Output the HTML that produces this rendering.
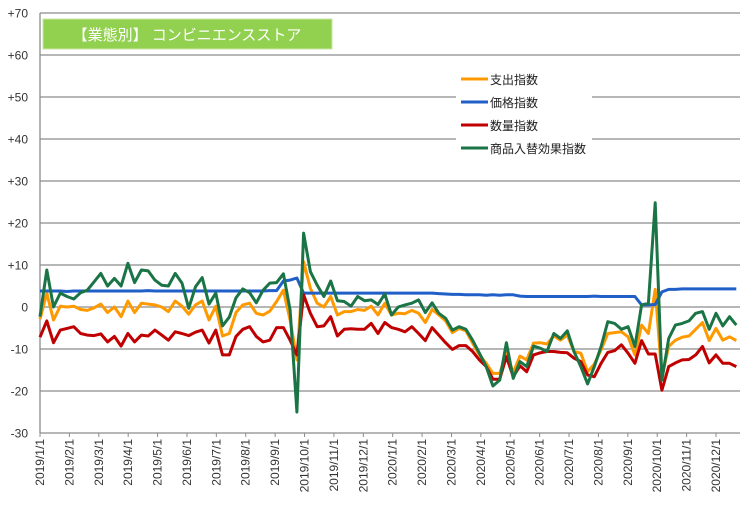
<!DOCTYPE html>
<html><head><meta charset="utf-8">
<style>
body{margin:0;background:#fff;}
svg{display:block;font-family:"Liberation Sans","Noto Sans CJK JP",sans-serif;}
</style></head>
<body>
<svg id="chart" width="745" height="510" viewBox="0 0 745 510"></svg>
<script>
const yTicks=[70,60,50,40,30,20,10,0,-10,-20,-30];
const monthLabels=["2019/1/1","2019/2/1","2019/3/1","2019/4/1","2019/5/1","2019/6/1","2019/7/1","2019/8/1","2019/9/1","2019/10/1","2019/11/1","2019/12/1","2020/1/1","2020/2/1","2020/3/1","2020/4/1","2020/5/1","2020/6/1","2020/7/1","2020/8/1","2020/9/1","2020/10/1","2020/11/1","2020/12/1"];
const seriesNames=["支出指数","価格指数","数量指数","商品入替効果指数"];
const spending=[-2.9,3.3,-3.1,0.2,0,0.2,-0.6,-0.8,-0.2,0.7,-1.3,0,-2.3,1.4,-1.3,0.9,0.7,0.5,0,-1.1,1.4,0.2,-1.7,0.5,1.4,-3.1,0.2,-6.9,-6.3,-1.3,0.5,0.9,-1.5,-1.9,-1,1.3,4,-3.1,-12.6,10.8,4.4,0.9,0,2.5,-1.9,-1.1,-1.1,-0.6,-0.8,0.2,-1.9,0.9,-1.9,-1.5,-1.6,-0.8,-1.5,-3.7,-0.6,-1.9,-3.3,-6.1,-5.1,-5.7,-8.6,-11.4,-13.4,-15.8,-15.8,-11,-15.6,-11.7,-12.6,-8.6,-8.5,-8.8,-6.9,-7.9,-6.7,-10.6,-11,-15.4,-13.6,-10.2,-6.3,-6.1,-5.9,-7.1,-11.4,-4.3,-6.3,4.2,-16.6,-9.4,-7.9,-7.2,-6.9,-5.3,-3.7,-8,-5.1,-7.9,-7.1,-8];
const price=[3.8,3.8,3.8,3.8,3.7,3.8,3.8,3.8,3.8,3.8,3.8,3.8,3.8,3.8,3.8,3.8,3.9,3.8,3.8,3.8,3.8,3.8,3.8,3.8,3.8,3.8,3.8,3.8,3.8,3.8,3.8,3.8,3.8,3.8,3.9,3.9,6.2,6.4,6.9,3.3,3.3,3.3,3.3,3.3,3.3,3.3,3.3,3.3,3.3,3.3,3.3,3.3,3.3,3.3,3.3,3.3,3.3,3.3,3.3,3.2,3.1,3.0,3.0,2.9,2.9,2.9,2.8,2.9,2.8,2.9,2.9,2.6,2.5,2.5,2.5,2.5,2.5,2.5,2.5,2.5,2.5,2.5,2.6,2.5,2.5,2.5,2.5,2.5,2.5,0.5,0.5,0.6,3.6,4.2,4.2,4.3,4.3,4.3,4.3,4.3,4.3,4.3,4.3,4.3];
const quantity=[-7.2,-3.3,-8.5,-5.5,-5.1,-4.7,-6.3,-6.7,-6.8,-6.4,-8.3,-7,-9.3,-6.3,-8.3,-6.7,-6.9,-5.5,-6.7,-7.9,-5.9,-6.3,-6.8,-6,-5.5,-8.6,-5.5,-11.4,-11.4,-7,-5.3,-4.7,-7,-8.3,-7.9,-4.9,-4.9,-7.9,-11.4,2.9,-1.5,-4.7,-4.5,-2.3,-6.9,-5.3,-5.2,-5.3,-5.3,-3.9,-6.3,-3.7,-4.9,-5.3,-5.9,-4.7,-6.3,-8,-4.9,-6.7,-8.5,-10.1,-9.2,-9.2,-10.6,-12.6,-14.2,-17.2,-17.2,-11.8,-16.6,-14,-15.4,-11.4,-10.9,-10.6,-10.6,-10.8,-10.9,-12.2,-13,-16.2,-16.6,-13.4,-10.8,-10.4,-9,-11,-13.4,-8,-11.2,-11.2,-19.8,-14.2,-13.3,-12.6,-12.5,-11.4,-9.4,-13.3,-11.4,-13.4,-13.4,-14.2];
const mix=[-2.3,8.8,0,3.3,2.5,1.9,3.4,4,6,8,5,6.8,5,10.4,5.8,8.8,8.6,6.4,5.2,5,8,5.7,-0.3,4.8,7,0.7,3.3,-4.5,-2.4,2.2,4.3,3.4,1,4,5.7,5.8,7.9,-0.7,-25,17.6,8.4,5.2,2.5,6.2,1.5,1.3,0.2,2.5,1.5,1.7,0.6,3.1,-1.9,0,0.5,0.9,1.7,-1.3,1,-1.5,-2.7,-5.5,-4.7,-5.3,-7.9,-11,-14.2,-18.8,-17.4,-8.5,-17,-13,-14.2,-9.3,-9.8,-10.6,-6.3,-7.5,-5.7,-10.6,-14.2,-18.3,-14.2,-9.4,-3.5,-3.9,-5.3,-4.7,-9.4,0.5,0.9,24.8,-17.4,-7.5,-4.3,-3.9,-3.3,-1.5,-1.1,-5.3,-1.5,-4.5,-2.3,-4.3];

const NS="http://www.w3.org/2000/svg";
const svg=document.getElementById('chart');
function mk(tag,attrs,parent){const e=document.createElementNS(NS,tag);for(const k in attrs)e.setAttribute(k,attrs[k]);(parent||svg).appendChild(e);return e;}
const X0=40,X1=740,YT=13,YB=433,VMIN=-30,VMAX=70;
const yS=v=>YB-(v-VMIN)/(VMAX-VMIN)*(YB-YT);
const WEEK=6.76;
const xW=i=>X0+i*WEEK;
const xM=m=>X0+m*(676/23);

// gridlines and y labels
yTicks.forEach(v=>{
  if(v!==VMIN){const g=mk('line',{x1:X0,x2:X1,y1:yS(v),y2:yS(v),stroke:'#8c8c8c','stroke-width':1.3});
  
  }
  const t=mk('text',{x:28,y:yS(v)+4.5,'text-anchor':'end','font-size':12,fill:'#333'});
  t.textContent=(v>0?'+':'')+v;
  
  
});
// axes
const ya=mk('line',{x1:X0,x2:X0,y1:YT,y2:YB,stroke:'#8c8c8c','stroke-width':1.3});


const xa=mk('line',{x1:X0,x2:X1,y1:YB,y2:YB,stroke:'#8c8c8c','stroke-width':1.3});


monthLabels.forEach((lab,m)=>{
  const x=xM(m);
  const tk=mk('line',{x1:x,x2:x,y1:YB,y2:YB+4,stroke:'#8c8c8c','stroke-width':1});
  
  
  const t=mk('text',{x:0,y:0,'text-anchor':'end','font-size':12,fill:'#333',transform:`translate(${x+4},${YB+6}) rotate(-90)`});
  t.textContent=lab;
  
  
});

// legend background
const lg=mk('g',{});


mk('rect',{x:456,y:66,width:136,height:92,fill:'#fff'},lg);

const series=[[spending,'#ff9900'],[price,'#1f5fc7'],[quantity,'#c00000'],[mix,'#1a7445']];
const seriesIds=['spending-line','price-line','quantity-line','mix-effect-line'];
series.forEach(([data,col],k)=>{
  const pts=data.map((v,i)=>xW(i).toFixed(1)+','+yS(v).toFixed(1)).join(' ');
  const p=mk('polyline',{points:pts,fill:'none',stroke:col,'stroke-width':3,'stroke-linejoin':'round'});
  
  
  const y=79+k*23;
  const ll=mk('line',{x1:461,x2:488,y1:y,y2:y,stroke:col,'stroke-width':3},lg);
  
  
  const lt=mk('text',{x:490,y:y+5,'font-size':12,fill:'#222'},lg);
  lt.textContent=seriesNames[k];
  
  
});
svg.appendChild(lg);

// title box
const tb=mk('g',{});


mk('rect',{x:43,y:19,width:289,height:30,fill:'#92d050',stroke:'#c9e6a6','stroke-width':1},tb);
const tt=mk('text',{x:187,y:40,'text-anchor':'middle','font-size':15,fill:'#fff'},tb);
tt.textContent='【業態別】 コンビニエンスストア';


</script>
</body></html>
